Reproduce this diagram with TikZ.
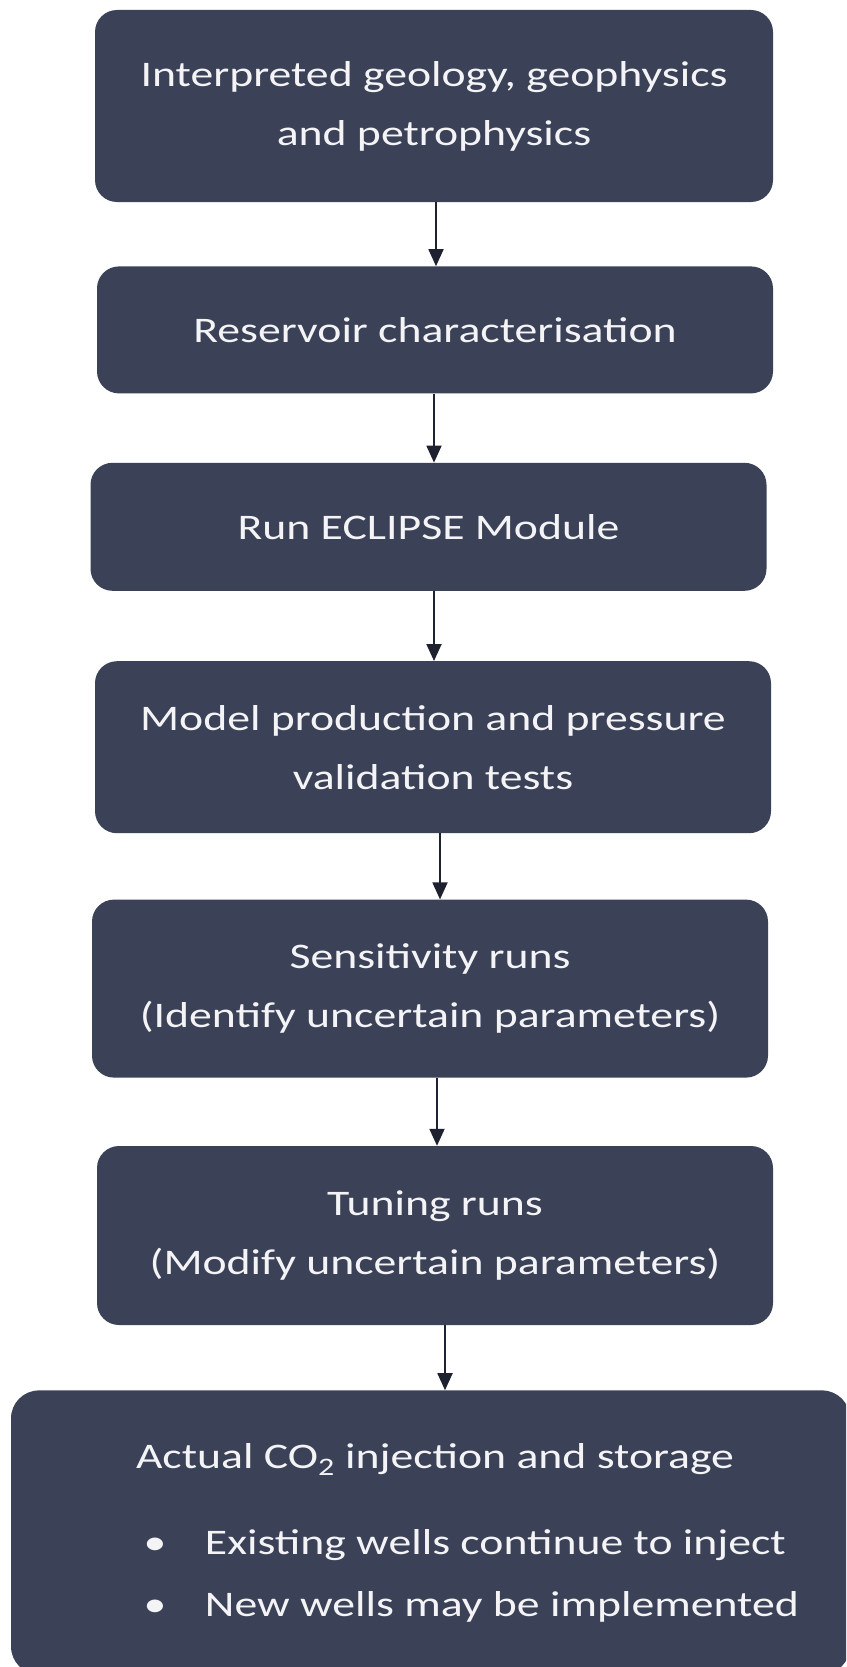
\documentclass[tikz,border=0pt]{standalone}
\usepackage{fontspec}
\setmainfont{Carlito}[FakeStretch=1.27]
\usepackage{xcolor}
\usepackage{tikz}
\usetikzlibrary{shapes,arrows.meta,positioning}

\definecolor{boxslate}{HTML}{3B4157}
\definecolor{arrowink}{HTML}{1E2230}
\definecolor{boxtext}{HTML}{F4F4F6}

\begin{document}
\begin{tikzpicture}[
    x=1pt, y=1pt,
    stepbox/.style={rectangle, rounded corners=22pt, fill=boxslate, text=boxtext, minimum width=676pt, inner sep=0pt, align=center, font=\fontsize{36}{59}\selectfont},
    flowarrow/.style={draw=arrowink, line width=1.8pt, -{Triangle[width=15pt, length=17pt]}}
]
\useasboundingbox (0,0) rectangle (846,-1667);
\clip (0,0) rectangle (846,-1667);

\node[stepbox, minimum width=678pt, minimum height=192pt] (geo) at (434,-106) {Interpreted geology, geophysics\\and petrophysics};
\node[stepbox, minimum height=127pt, below=64pt of geo, xshift=1pt] (res) {Reservoir characterisation};
\node[stepbox, minimum height=128pt, below=69pt of res, xshift=-6.5pt] (ecl) {Run ECLIPSE Module};
\node[stepbox, minimum height=172pt, below=70pt of ecl, xshift=4.5pt] (model) {Model production and pressure\\validation tests};
\node[stepbox, minimum height=178pt, below=66pt of model, xshift=-3pt] (sens) {Sensitivity runs\\(Identify uncertain parameters)};
\node[stepbox, minimum height=179pt, below=68pt of sens, xshift=5pt] (tune) {Tuning runs\\(Modify uncertain parameters)};
\node[stepbox, rounded corners=28pt, minimum width=839pt, minimum height=284pt, text width=760pt, align=flush left, below=65pt of tune, xshift=-4.5pt] (inject) {%
\hspace*{85.5pt}Actual CO\textsubscript{2} injection and storage\\[27pt]
\hspace*{93pt}\makebox[61.5pt][l]{\textbullet}Existing wells continue to inject\\[3pt]
\hspace*{93pt}\makebox[61.5pt][l]{\textbullet}New wells may be implemented};

\foreach \from/\to/\ax in {geo/res/436, res/ecl/434, ecl/model/434, model/sens/440, sens/tune/437, tune/inject/445}
    \draw[flowarrow] (\from.south -| \ax,0) -- (\to.north -| \ax,0);
\end{tikzpicture}
\end{document}
